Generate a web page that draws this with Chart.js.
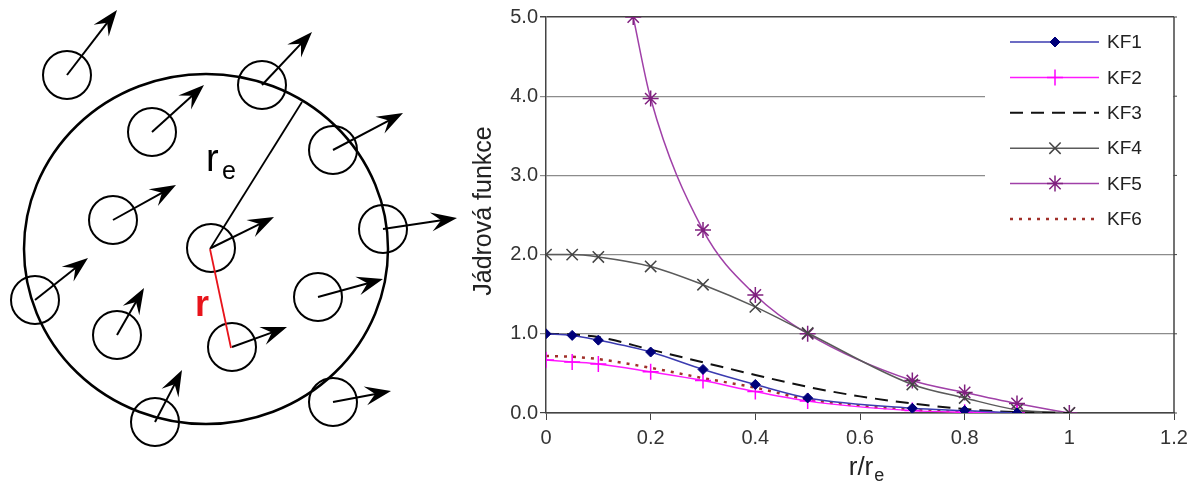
<!DOCTYPE html>
<html lang="cs">
<head>
<meta charset="UTF-8">
<title>Jádrová funkce</title>
<style>
  body { margin: 0; background: #fff; }
  canvas { display: block; }
</style>
</head>
<body>
<canvas id="chart" width="1199" height="482"></canvas>
<script src="https://cdn.jsdelivr.net/npm/chart.js"></script>
<script>
// values (r/re on x, kernel value on y)
const rMarked = [0, 0.05, 0.1, 0.2, 0.3, 0.4, 0.5, 0.7, 0.8, 0.9, 1.0];
const kf1 = [1.0, 0.98, 0.92, 0.77, 0.55, 0.36, 0.19, 0.06, 0.03, 0.0];
const kf2 = [0.67, 0.645, 0.62, 0.52, 0.41, 0.27, 0.15, 0.03, 0.01, 0.0];
const kf4 = [2.0, 2.0, 1.97, 1.85, 1.62, 1.34, 1.01, 0.36, 0.19, 0.04, 0.0];
const rKF5 = [1 / 6, 0.2, 0.3, 0.4, 0.5, 0.7, 0.8, 0.9, 1.0];
const kf5 = [5.0, 3.97, 2.31, 1.49, 1.0, 0.41, 0.26, 0.12, 0.0];
const rSmooth = [0, 0.05, 0.1, 0.2, 0.3, 0.4, 0.5, 0.6, 0.7, 0.8, 0.9, 1.0];
const kf3 = [1.0, 0.99, 0.96, 0.8, 0.64, 0.48, 0.33, 0.21, 0.12, 0.05, 0.01, 0.0];
const kf6 = [0.72, 0.71, 0.68, 0.57, 0.44, 0.32, 0.17, 0.09, 0.04, 0.01, 0.0];
const labels = ['KF1', 'KF2', 'KF3', 'KF4', 'KF5', 'KF6'];
const xTicks = [0, 0.2, 0.4, 0.6, 0.8, 1.0, 1.2];
const yTicks = [0, 1, 2, 3, 4, 5];

const pts = (xs, ys) => ys.map((y, i) => ({ x: xs[i], y: y }));

const FONT = 'Liberation Sans, Arial, sans-serif';
Chart.defaults.font.family = FONT;

// left illustration: particles (circle centre + arrow tip)
const particles = [
  [67, 75, 117, 10], [262, 85, 312, 32], [152, 132, 204, 85], [333, 150, 403, 113],
  [113, 220, 176, 185], [211, 248, 274, 217], [383, 229, 457, 218], [35, 300, 88, 258],
  [117, 335, 144, 288], [318, 297, 383, 279], [232, 347, 287, 327], [155, 422, 182, 370],
  [333, 402, 391, 391]
];

function arrow(ctx, x0, y0, x1, y1) {
  const a = Math.atan2(y1 - y0, x1 - x0);
  const dx = Math.cos(a), dy = Math.sin(a);
  const L = 26, W = 9.5;
  ctx.beginPath();
  ctx.moveTo(x0, y0);
  ctx.lineTo(x1 - dx * L * 0.6, y1 - dy * L * 0.6);
  ctx.stroke();
  ctx.beginPath();
  ctx.moveTo(x1, y1);
  ctx.lineTo(x1 - dx * L - dy * W, y1 - dy * L + dx * W);
  ctx.lineTo(x1 - dx * L * 0.62, y1 - dy * L * 0.62);
  ctx.lineTo(x1 - dx * L + dy * W, y1 - dy * L - dx * W);
  ctx.closePath();
  ctx.fill();
}

const sketch = {
  id: 'sketch',
  beforeDraw(chart) {
    const ctx = chart.ctx;
    ctx.save();
    ctx.fillStyle = '#fff';
    ctx.fillRect(0, 0, chart.width, chart.height);
    ctx.strokeStyle = '#000';
    ctx.fillStyle = '#000';
    ctx.lineWidth = 2.5;
    ctx.beginPath();
    ctx.ellipse(206, 249, 182, 175, 0, 0, Math.PI * 2);
    ctx.stroke();
    ctx.lineWidth = 2;
    particles.forEach(p => {
      ctx.beginPath();
      ctx.arc(p[0], p[1], 24, 0, Math.PI * 2);
      ctx.stroke();
      arrow(ctx, p[0], p[1], p[2], p[3]);
    });
    // radius re
    ctx.lineWidth = 1.8;
    ctx.beginPath();
    ctx.moveTo(210, 249);
    ctx.lineTo(302, 102);
    ctx.stroke();
    // distance r
    ctx.strokeStyle = '#e8141b';
    ctx.beginPath();
    ctx.moveTo(210, 249);
    ctx.lineTo(231, 348);
    ctx.stroke();
    ctx.font = '38px ' + FONT;
    ctx.textBaseline = 'alphabetic';
    ctx.fillStyle = '#000';
    ctx.fillText('r', 206, 171);
    ctx.font = '25px ' + FONT;
    ctx.fillText('e', 222, 179);
    ctx.font = 'bold 36px ' + FONT;
    ctx.fillStyle = '#e8141b';
    ctx.fillText('r', 195, 316);
    ctx.restore();
  },
  afterDraw(chart) {
    const ctx = chart.ctx;
    const area = chart.chartArea;
    ctx.save();
    // right frame with small outer ticks
    ctx.strokeStyle = '#444';
    ctx.lineWidth = 1.5;
    ctx.beginPath();
    ctx.moveTo(area.right, area.top);
    ctx.lineTo(area.right, area.bottom);
    ctx.stroke();
    const ys = chart.scales.y;
    ctx.lineWidth = 1;
    yTicks.forEach(v => {
      const y = ys.getPixelForValue(v);
      ctx.beginPath();
      ctx.moveTo(area.right, y);
      ctx.lineTo(area.right + 3, y);
      ctx.stroke();
    });
    // legend
    ctx.fillStyle = '#fff';
    ctx.fillRect(985, 22, area.right - 986, 216);
    chart.data.datasets.forEach((ds, i) => {
      const y = 42 + i * 35.4;
      ctx.save();
      ctx.strokeStyle = ds.borderColor;
      ctx.lineWidth = ds.borderWidth;
      ctx.setLineDash(ds.borderDash || []);
      ctx.beginPath();
      ctx.moveTo(1010, y);
      ctx.lineTo(1099, y);
      ctx.stroke();
      ctx.restore();
      if (ds.pointRadius > 0 && Chart.helpers && Chart.helpers.drawPoint) {
        ctx.save();
        ctx.strokeStyle = ds.pointBorderColor;
        ctx.fillStyle = ds.pointBackgroundColor;
        ctx.lineWidth = ds.pointBorderWidth;
        Chart.helpers.drawPoint(ctx, {
          pointStyle: ds.pointStyle, radius: ds.pointRadius,
          borderWidth: ds.pointBorderWidth, rotation: 0
        }, 1055, y);
        ctx.restore();
      }
      ctx.fillStyle = '#222';
      ctx.font = '19px ' + FONT;
      ctx.textBaseline = 'middle';
      ctx.textAlign = 'left';
      ctx.fillText(ds.label, 1107, y + 1);
    });
    // axis titles
    ctx.fillStyle = '#222';
    ctx.textBaseline = 'middle';
    ctx.textAlign = 'center';
    ctx.save();
    ctx.translate(484, 211);
    ctx.rotate(-Math.PI / 2);
    ctx.font = '25px ' + FONT;
    ctx.fillText('Jádrová funkce', 0, 0);
    ctx.restore();
    ctx.textAlign = 'left';
    ctx.textBaseline = 'alphabetic';
    ctx.font = '26px ' + FONT;
    const w1 = ctx.measureText('r/r').width;
    ctx.font = '18px ' + FONT;
    const w2 = ctx.measureText('e').width;
    const x0 = (area.left + area.right) / 2 + 6 - (w1 + w2) / 2;
    ctx.font = '26px ' + FONT;
    ctx.fillText('r/r', x0, 475);
    ctx.font = '18px ' + FONT;
    ctx.fillText('e', x0 + w1 + 1, 481);
    ctx.restore();
  }
};

const lineBase = { cubicInterpolationMode: 'monotone', fill: false };

new Chart(document.getElementById('chart'), {
  type: 'line',
  data: {
    datasets: [
      Object.assign({}, lineBase, {
        label: labels[0], data: pts(rMarked, kf1),
        borderColor: '#3b3bb0', borderWidth: 1.5,
        pointStyle: 'rectRot', pointRadius: 5, pointBorderWidth: 1,
        pointBackgroundColor: '#00007a', pointBorderColor: '#00007a'
      }),
      Object.assign({}, lineBase, {
        label: labels[1], data: pts(rMarked, kf2),
        borderColor: '#ff1aff', borderWidth: 1.5,
        pointStyle: 'cross', pointRadius: 8, pointBorderWidth: 1.5,
        pointBackgroundColor: '#ff00ff', pointBorderColor: '#ff00ff'
      }),
      Object.assign({}, lineBase, {
        label: labels[2], data: pts(rSmooth, kf3),
        borderColor: '#111', borderWidth: 2, borderDash: [13, 8],
        pointRadius: 0
      }),
      Object.assign({}, lineBase, {
        label: labels[3], data: pts(rMarked, kf4),
        borderColor: '#5a5a5a', borderWidth: 1.5,
        pointStyle: 'crossRot', pointRadius: 8, pointBorderWidth: 1.5,
        pointBackgroundColor: '#444', pointBorderColor: '#444'
      }),
      Object.assign({}, lineBase, {
        label: labels[4], data: pts(rKF5, kf5),
        borderColor: '#a040a8', borderWidth: 1.5,
        pointStyle: 'star', pointRadius: 8, pointBorderWidth: 1.5,
        pointBackgroundColor: '#80207f', pointBorderColor: '#80207f'
      }),
      Object.assign({}, lineBase, {
        label: labels[5], data: pts(rSmooth, kf6),
        borderColor: '#a0302a', borderWidth: 2.5, borderDash: [3, 6],
        pointRadius: 0
      })
    ]
  },
  options: {
    responsive: false,
    animation: false,
    devicePixelRatio: 1,
    layout: { padding: { left: 470, top: 17, right: 25, bottom: 0 } },
    plugins: { legend: { display: false }, tooltip: { enabled: false } },
    scales: {
      x: {
        type: 'linear', min: 0, max: 1.2,
        afterFit(scale) { scale.height = 69; },
        afterBuildTicks(scale) { scale.ticks = xTicks.map(v => ({ value: v })); },
        ticks: {
          color: '#333', font: { size: 20 }, padding: 6, maxRotation: 0,
          callback: v => String(Math.round(v * 10) / 10)
        },
        grid: { drawOnChartArea: false, drawTicks: true, tickLength: 7, color: '#444' },
        border: { color: '#444', width: 1.5 }
      },
      y: {
        min: 0, max: 5,
        afterFit(scale) { scale.width = 76; },
        afterBuildTicks(scale) { scale.ticks = yTicks.map(v => ({ value: v })); },
        ticks: {
          color: '#333', font: { size: 20 }, padding: 2,
          callback: v => v.toFixed(1)
        },
        grid: {
          tickLength: 6,
          color: c => (c.tick && (c.tick.value === 5 || c.tick.value === 0)) ? '#444' : '#8c8c8c',
          lineWidth: c => (c.tick && c.tick.value === 5) ? 1.5 : 1.2
        },
        border: { color: '#444', width: 1.5 }
      }
    }
  },
  plugins: [sketch]
});
</script>
</body>
</html>
